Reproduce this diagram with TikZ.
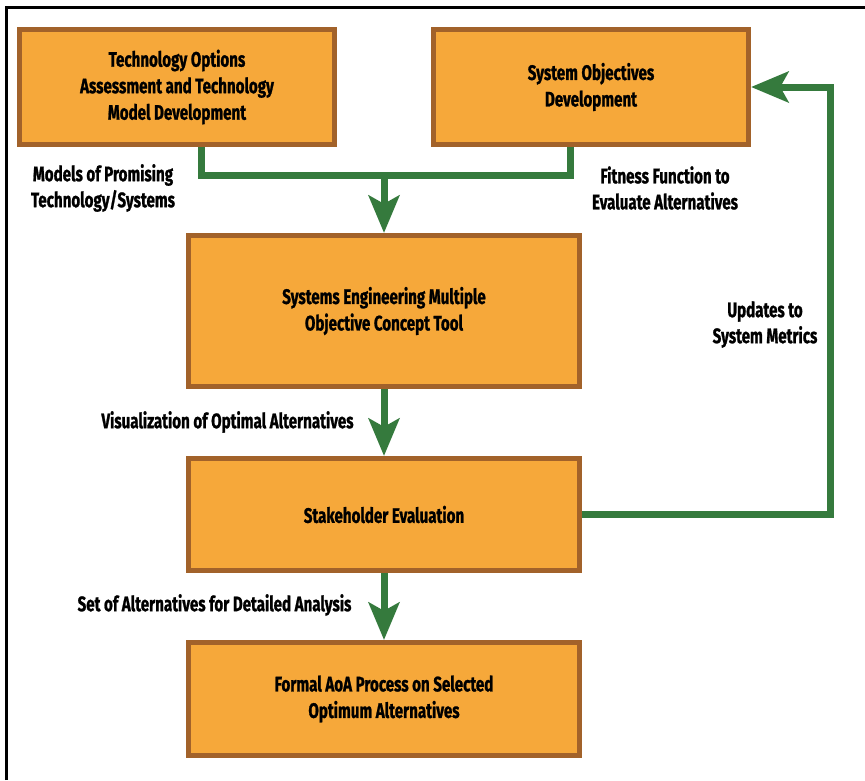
\documentclass[tikz,border=0pt]{standalone}
\usepackage{fontspec}
\newfontfamily\cond{Fira Sans}[FakeStretch=0.72, FakeBold=1]
\usetikzlibrary{arrows.meta}
\definecolor{boxfill}{HTML}{F6A83A}
\definecolor{boxline}{HTML}{A2622A}
\definecolor{flowgreen}{HTML}{357A3D}
\tikzset{
  procbox/.style={draw=boxline, fill=boxfill, line width=5.5pt, align=center,
    font=\cond\bfseries\fontsize{21}{26.5}\selectfont, inner sep=0pt},
  lbl/.style={align=center, font=\cond\bfseries\fontsize{21}{26}\selectfont, inner sep=0pt},
  flow/.style={draw=flowgreen, line width=7pt, line join=miter},
  flowarrow/.style={flow, -{Stealth[length=38pt, width=32pt, inset=9pt, line width=0pt, fill=flowgreen]}},
  framepart/.style={draw=black, line width=3pt}
}
\begin{document}
\begin{tikzpicture}[x=1pt, y=-1pt]
\useasboundingbox (0,0) rectangle (865,780);
% partial outer frame
\coordinate (fA) at (6.5,780);
\coordinate (fB) at (6.5,7);
\coordinate (fC) at (865,7);
\draw[framepart] (fA) -- (fB) -- (fC);

% boxes
\node[procbox, minimum width=315pt, minimum height=115pt] (b1) at (177,87)
  {Technology Options\\Assessment and Technology\\Model Development};
\node[procbox, minimum width=315pt, minimum height=115pt] (b2) at (591,87)
  {System Objectives\\Development};
\node[procbox, minimum width=391pt, minimum height=151pt] (b3) at (384,311)
  {Systems Engineering Multiple\\Objective Concept Tool};
\node[procbox, minimum width=391pt, minimum height=112pt] (b4) at (384,514.5)
  {Stakeholder Evaluation};
\node[procbox, minimum width=391pt, minimum height=113pt] (b5) at (384,699)
  {Formal AoA Process on Selected\\Optimum Alternatives};

% labels
\node[lbl] (l1) at (103,188) {Models of Promising\\Technology/Systems};
\node[lbl] (l2) at (665,188) {Fitness Function to\\Evaluate Alternatives};
\node[lbl] (l3) at (765,324.5) {Updates to\\System Metrics};
\node[lbl] (l4) at (227.5,422) {Visualization of Optimal Alternatives};
\node[lbl] (l5) at (214.5,605) {Set of Alternatives for Detailed Analysis};

% connectors
\coordinate (jL) at (201,175);
\coordinate (jR) at (570,175);
\coordinate (jM) at (384,175);
\draw[flow] (b1.south -| jL) -- (jL) -- (jR) -- (b2.south -| jR);
\draw[flowarrow] (jM) -- (b3.north);
\draw[flowarrow] (b3.south) -- (b4.north);
\draw[flowarrow] (b4.south) -- (b5.north);
\coordinate (fb) at (830,87);
\draw[flowarrow] (b4.east) -- (b4.east -| fb) -- (fb) -- (b2.east);
\end{tikzpicture}
\end{document}
